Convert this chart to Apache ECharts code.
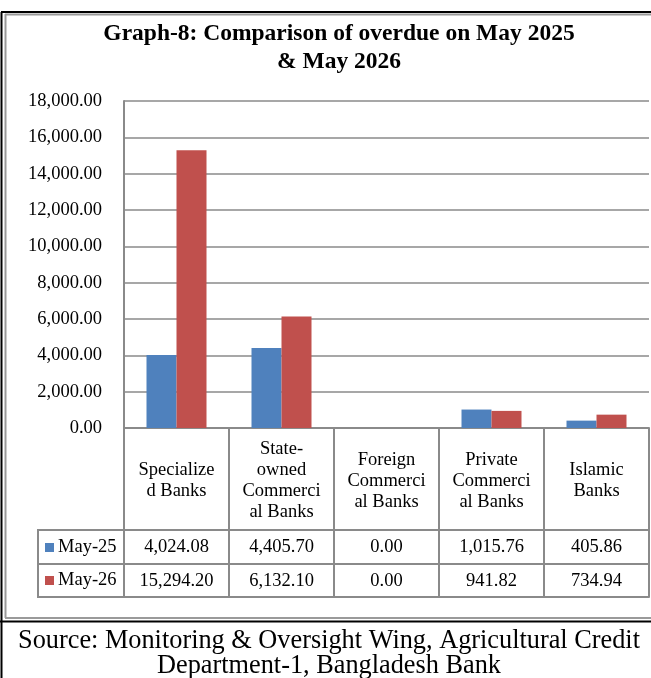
<!DOCTYPE html>
<html>
<head>
<meta charset="utf-8">
<script src="https://cdn.jsdelivr.net/npm/echarts@6/dist/echarts.min.js"></script>
<style>
  html, body { margin: 0; padding: 0; background: #fff; }
  #chart { width: 651px; height: 678px; }
</style>
</head>
<body>
<div id="chart"></div>
<script>
var categories = ['Specialize\nd Banks', 'State-\nowned\nCommerci\nal Banks', 'Foreign\nCommerci\nal Banks', 'Private\nCommerci\nal Banks', 'Islamic\nBanks'];
var may25 = [4024.08, 4405.70, 0.00, 1015.76, 405.86];
var may26 = [15294.20, 6132.10, 0.00, 941.82, 734.94];
var yTicks = [0, 18000, 2000]; // min, max, interval

var FONT = "'Times New Roman', 'Liberation Serif', serif";
var GRAY = '#8a8a8a';
var FS = 18.5;

function fmt(v) {
	return Number(v).toLocaleString('en-US', {minimumFractionDigits: 2, maximumFractionDigits: 2});
}

function line(x1, y1, x2, y2, color, w) {
	return {
		type: 'line',
		shape: {x1: x1, y1: y1, x2: x2, y2: y2},
		style: {stroke: color, lineWidth: w},
		silent: true
	};
}

var myChart = echarts.init(document.getElementById('chart'));
var option = {
	backgroundColor: '#fff',
	animation: false,
	title: [{
		text: 'Graph-8: Comparison of overdue on May 2025\n& May 2026',
		left: 334,
		top: 15,
		textAlign: 'center',
		textStyle: {
			fontFamily: FONT,
			fontWeight: 'bold',
			fontSize: 23.5,
			lineHeight: 28,
			color: '#000'
		}
	}, {
		text: 'Source: Monitoring & Oversight Wing, Agricultural Credit\nDepartment-1, Bangladesh Bank',
		left: 324,
		top: 624,
		textAlign: 'center',
		textStyle: {
			fontFamily: FONT,
			fontWeight: 'normal',
			fontSize: 26.3,
			lineHeight: 25,
			color: '#000'
		}
	}],
	legend: [{
		data: ['May-25'],
		left: 45,
		top: 538,
		padding: 0,
		itemWidth: 9,
		itemHeight: 9,
		icon: 'rect',
		textStyle: {fontFamily: FONT, fontSize: FS, color: '#000', padding: [0, 0, 0, -1]}
	}, {
		data: ['May-26'],
		left: 45,
		top: 571,
		padding: 0,
		itemWidth: 9,
		itemHeight: 9,
		icon: 'rect',
		textStyle: {fontFamily: FONT, fontSize: FS, color: '#000', padding: [0, 0, 0, -1]}
	}],
	grid: {
		left: 124,
		top: 101,
		width: 525,
		height: 327
	},
	xAxis: [{
		type: 'category',
		data: categories,
		axisLine: {lineStyle: {color: GRAY, width: 2}},
		axisTick: {show: true, interval: 0, length: 102, lineStyle: {color: GRAY, width: 2}},
		axisLabel: {
			interval: 0,
			margin: 53,
			verticalAlign: 'middle',
			lineHeight: 21,
			fontFamily: FONT,
			fontSize: FS,
			color: '#000'
		}
	}, {
		type: 'category',
		data: categories,
		position: 'bottom',
		offset: 102,
		axisLine: {lineStyle: {color: GRAY, width: 2}},
		axisTick: {show: true, interval: 0, length: 34, lineStyle: {color: GRAY, width: 2}},
		axisLabel: {
			interval: 0,
			margin: 17,
			verticalAlign: 'middle',
			fontFamily: FONT,
			fontSize: FS,
			color: '#000',
			formatter: function (v, i) { return fmt(may25[i]); }
		}
	}, {
		type: 'category',
		data: categories,
		position: 'bottom',
		offset: 136,
		axisLine: {lineStyle: {color: GRAY, width: 2}},
		axisTick: {show: true, interval: 0, length: 33, lineStyle: {color: GRAY, width: 2}},
		axisLabel: {
			interval: 0,
			margin: 17,
			verticalAlign: 'middle',
			fontFamily: FONT,
			fontSize: FS,
			color: '#000',
			formatter: function (v, i) { return fmt(may26[i]); }
		}
	}, {
		type: 'category',
		data: categories,
		position: 'bottom',
		offset: 169,
		axisLine: {lineStyle: {color: GRAY, width: 2}},
		axisTick: {show: false},
		axisLabel: {show: false}
	}],
	yAxis: {
		type: 'value',
		min: yTicks[0],
		max: yTicks[1],
		interval: yTicks[2],
		axisLine: {show: true, lineStyle: {color: GRAY, width: 2}},
		axisTick: {show: false},
		splitLine: {lineStyle: {color: GRAY, width: 1.5}},
		axisLabel: {
			margin: 22,
			fontFamily: FONT,
			fontSize: FS,
			color: '#000',
			formatter: function (v) { return fmt(v); }
		}
	},
	series: [{
		name: 'May-25',
		type: 'bar',
		barWidth: 30,
		barGap: '0%',
		itemStyle: {color: '#4F81BD'},
		data: may25
	}, {
		name: 'May-26',
		type: 'bar',
		barWidth: 30,
		barGap: '0%',
		itemStyle: {color: '#C0504D'},
		data: may26
	}],
	graphic: [
		// outer frame
		line(1.5, 12, 1.5, 678, '#000', 2),
		line(1, 12, 651, 12, '#000', 2),
		line(5.5, 14, 5.5, 618, '#9a9a9a', 2),
		line(5, 14.5, 651, 14.5, '#9a9a9a', 2),
		line(5, 618, 651, 618, '#9a9a9a', 2),
		line(0, 621.5, 651, 621.5, '#000', 2),
		// legend column of the data table
		line(38, 530, 124, 530, GRAY, 2),
		line(38, 564, 124, 564, GRAY, 2),
		line(38, 597, 124, 597, GRAY, 2),
		line(38, 529, 38, 598, GRAY, 2)
	]
};
myChart.setOption(option);
</script>
</body>
</html>
